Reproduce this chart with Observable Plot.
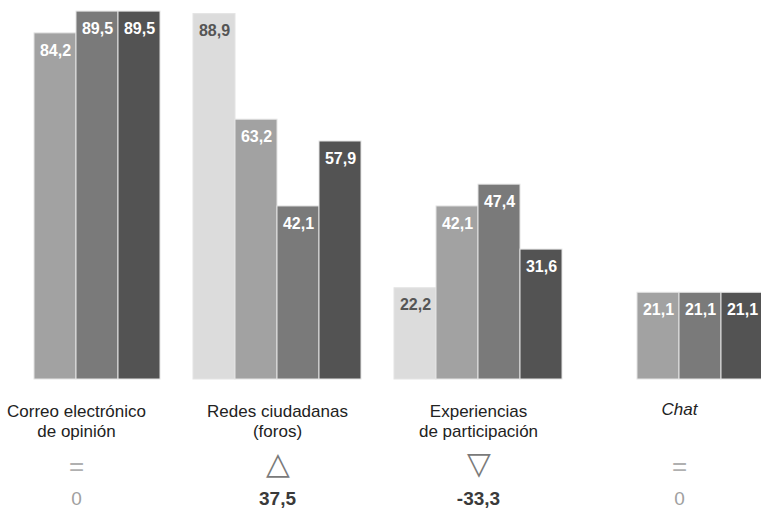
<!DOCTYPE html>
<html>
<head>
<meta charset="utf-8">
<script src="https://cdn.jsdelivr.net/npm/d3@7"></script>
<script src="https://cdn.jsdelivr.net/npm/@observablehq/plot@0.6"></script>
<style>
  html, body { margin: 0; padding: 0; background: #fff; }
  #chart svg { display: block; }
</style>
</head>
<body>
<div id="chart"></div>
<script>
const groups = ["Correo electrónico\nde opinión", "Redes ciudadanas\n(foros)", "Experiencias\nde participación", "Chat"];
const series = ["s1", "s2", "s3", "s4"];
const seriesColors = ["#dcdcdc", "#a2a2a2", "#7a7a7a", "#535353"];
const seriesLabelColors = ["#555555", "#ffffff", "#ffffff", "#ffffff"];
const values = [
  [null, 84.2, 89.5, 89.5],
  [88.9, 63.2, 42.1, 57.9],
  [22.2, 42.1, 47.4, 31.6],
  [null, 21.1, 21.1, 21.1]
];
const symbols = ["=", "△", "▽", "="];
const changes = ["0", "37,5", "-33,3", "0"];
const changeBold = [false, true, true, false];

const data = [];
groups.forEach((g, gi) => series.forEach((s, si) => {
  const v = values[gi][si];
  if (v != null) data.push({group: g, series: s, value: v, label: v.toFixed(1).replace(".", ",")});
}));
const groupRows = groups.map((g, i) => ({group: g, symbol: symbols[i], change: changes[i], bold: changeBold[i], italic: g === "Chat"}));

const chart = Plot.plot({
  width: 761,
  height: 514,
  marginTop: 0,
  marginBottom: 135,
  marginLeft: -8,
  marginRight: -3,
  style: {fontFamily: "'Liberation Sans', Arial, sans-serif", background: "#fff"},
  fx: {domain: groups, paddingInner: 0.164, paddingOuter: 0, axis: null, label: null},
  x: {domain: series, padding: 0, axis: null},
  y: {domain: [0, 92.2], axis: null},
  color: {domain: series, range: seriesColors},
  marks: [
    Plot.barY(data, {fx: "group", x: "series", y: "value", fill: "series", stroke: "#e4e4e4", strokeWidth: 1}),
    Plot.text(data, {fx: "group", x: "series", y: "value", text: "label", dy: 17, fontSize: 16, fontWeight: "bold",
      fill: d => seriesLabelColors[series.indexOf(d.series)]}),
    Plot.text(groupRows.filter(d => !d.italic), {fx: "group", text: "group", frameAnchor: "bottom", lineAnchor: "top", dy: 23, fontSize: 17, lineHeight: 1.17, fill: "#222"}),
    Plot.text(groupRows.filter(d => d.italic), {fx: "group", text: "group", frameAnchor: "bottom", lineAnchor: "top", dy: 23, fontSize: 17, fontStyle: "italic", fill: "#222"}),
    Plot.text(groupRows.filter(d => d.symbol === "="), {fx: "group", text: "symbol", frameAnchor: "bottom", dy: 95, fontSize: 26, fill: "#b0b0b0"}),
    Plot.text(groupRows.filter(d => d.symbol !== "="), {fx: "group", text: "symbol", frameAnchor: "bottom", dy: 94, fontSize: 31, fill: "#7a7a7a"}),
    Plot.text(groupRows.filter(d => !d.bold), {fx: "group", text: "change", frameAnchor: "bottom", dy: 125, fontSize: 19, fill: "#a0a0a0"}),
    Plot.text(groupRows.filter(d => d.bold), {fx: "group", text: "change", frameAnchor: "bottom", dy: 125, fontSize: 19, fontWeight: "bold", fill: "#3a3a3a"})
  ]
});
document.getElementById("chart").appendChild(chart);
</script>
</body>
</html>
